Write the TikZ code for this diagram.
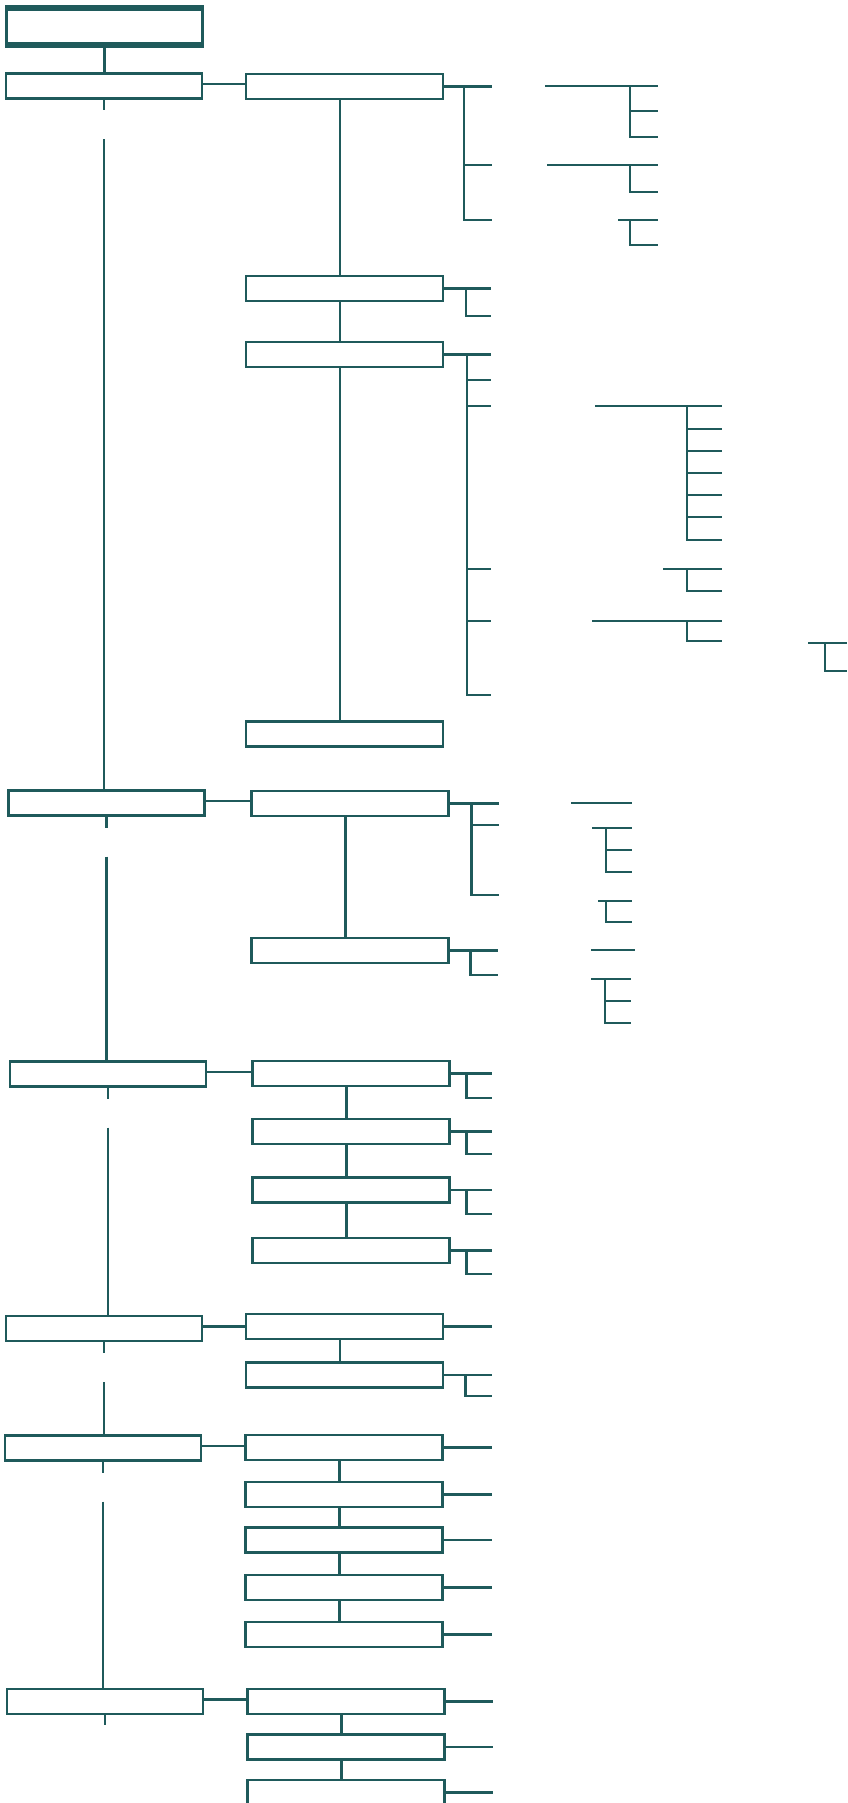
\documentclass[tikz,border=0pt]{standalone}
\usepackage{tikz}
\usetikzlibrary{positioning,calc}
\definecolor{deepteal}{HTML}{1F5A5B}

\begin{document}
\begin{tikzpicture}[
    x=1pt, y=-1pt,
    rootbox/.style={rectangle, draw=deepteal, line width=2.6pt, minimum width=196pt, minimum height=37pt, inner sep=0pt, outer sep=0pt},
    rootbar/.style={draw=deepteal, line width=6pt, shorten <=-1.3pt, shorten >=-1.3pt},
    catbox/.style={rectangle, draw=deepteal, line width=2.2pt, minimum width=196pt, minimum height=25pt, inner sep=0pt, outer sep=0pt},
    itembox/.style={rectangle, draw=deepteal, line width=2.2pt, minimum width=197pt, minimum height=25pt, inner sep=0pt, outer sep=0pt},
    link/.style={draw=deepteal, line width=2.2pt}
]
    \useasboundingbox (0,0) rectangle (847,1803);

    \node [rootbox] (root) at (104.5,26.5) {};
    \draw [rootbar] (root.north west) -- (root.north east);
    \draw [rootbar] (root.south west) -- (root.south east);

    \node [catbox] (a1) at (104,86) {};
    \node [catbox] (a2) at (106.5,803) {};
    \node [catbox] (a3) at (108,1074) {};
    \node [catbox] (a4) at (104,1328.5) {};
    \node [catbox] (a5) at (103,1448) {};
    \node [catbox] (a6) at (105,1701.5) {};

    \node [itembox] (b1) at (344.5,86.5) {};
    \node [itembox] (b2) at (344.5,288.5) {};
    \node [itembox] (b3) at (344.5,354.5) {};
    \node [itembox] (b4) at (344.5,734) {};
    \node [itembox] (c1) at (350,803.5) {};
    \node [itembox] (c2) at (350,950.5) {};
    \node [itembox] (d1) at (351,1073.5) {};
    \node [itembox] (d2) at (351,1131.5) {};
    \node [itembox] (d3) at (351,1190) {};
    \node [itembox] (d4) at (351,1250.5) {};
    \node [itembox] (e1) at (344.5,1326.5) {};
    \node [itembox] (e2) at (344.5,1375) {};
    \node [itembox] (f1) at (344,1447.5) {};
    \node [itembox] (f2) at (344,1494.5) {};
    \node [itembox] (f3) at (344,1540) {};
    \node [itembox] (f4) at (344,1587.5) {};
    \node [itembox] (f5) at (344,1634.5) {};
    \node [itembox] (g1) at (346,1701.5) {};
    \node [itembox] (g2) at (346,1747) {};
    \node [itembox] (g3) at (346,1792.5) {};

    \draw [link] (root.south) -- (root.south |- a1.north);
    \foreach \u/\v in {a1/a2,a2/a3,a3/a4,a4/a5,a5/a6} {
        \draw [link] (\u.south) -- ++(0,12);
        \draw [link] ($(\u.south)+(0,41)$) -- (\u.south |- \v.north);
    }
    \draw [link] (a6.south) -- ++(0,11);

    \foreach \u/\v in {a1/b1,a2/c1,a3/d1,a4/e1,a5/f1,a6/g1}
        \draw [link] ([yshift=2pt]\u.east) -- ([yshift=2pt]\u.east -| \v.west);

    \foreach \u/\v in {b1/b2,b2/b3,b3/b4,c1/c2,d1/d2,d2/d3,d3/d4,e1/e2,f1/f2,f2/f3,f3/f4,f4/f5,g1/g2,g2/g3}
        \draw [link] ([xshift=-4.5pt]\u.south) -- ([xshift=-4.5pt]\v.north);

    \draw [link] (b1.east) -- ++(49,0);
    \draw [link] ($(b1.east)+(21,0)$) |- ++(28,133.5);
    \draw [link] ($(b1.east)+(21,78.5)$) -- ++(28,0);
    \draw [link] (b2.east) -- ++(48,0);
    \draw [link] ($(b2.east)+(23,0)$) |- ++(25,27.5);
    \draw [link] (b3.east) -- ++(48,0);
    \draw [link] ($(b3.east)+(24,0)$) |- ++(24,340.5);
    \foreach \dy in {25.5,51.5,214.5,266.5}
        \draw [link] ($(b3.east)+(24,\dy)$) -- ++(24,0);
    \draw [link] (c1.east) -- ++(50,0);
    \draw [link] ($(c1.east)+(23,0)$) |- ++(27,91.5);
    \draw [link] ($(c1.east)+(23,21.5)$) -- ++(27,0);
    \draw [link] (c2.east) -- ++(49,0);
    \draw [link] ($(c2.east)+(22,0)$) |- ++(27,24.5);
    \foreach \n/\h in {d1/24.5,d2/22.5,d3/24,d4/23.5} {
        \draw [link] (\n.east) -- ++(42,0);
        \draw [link] ($(\n.east)+(17,0)$) |- ++(25,\h);
    }
    \draw [link] (e1.east) -- ++(48.5,0);
    \draw [link] (e2.east) -- ++(48.5,0);
    \draw [link] ($(e2.east)+(22.5,0)$) |- ++(26,21);
    \foreach \n in {f1,f2,f3,f4,f5}
        \draw [link] (\n.east) -- ++(49,0);
    \foreach \n in {g1,g2,g3}
        \draw [link] (\n.east) -- ++(48,0);

    \draw [link] (545,86) -- (658,86);
    \draw [link] (630,86) |- (658,137);
    \draw [link] (630,111) -- (658,111);
    \draw [link] (547,165) -- (658,165);
    \draw [link] (630,165) |- (658,192);
    \draw [link] (618,220) -- (658,220);
    \draw [link] (630,220) |- (658,245);

    \draw [link] (595,406) -- (722,406);
    \draw [link] (687,406) |- (722,540);
    \foreach \y in {429,451,473,495,517}
        \draw [link] (687,\y) -- (722,\y);
    \draw [link] (663,569) -- (722,569);
    \draw [link] (687,569) |- (722,591);
    \draw [link] (592,621) -- (722,621);
    \draw [link] (687,621) |- (722,641);
    \draw [link] (808,643) -- (847,643);
    \draw [link] (825,643) |- (847,671);

    \draw [link] (571,803) -- (632,803);
    \draw [link] (592,828) -- (632,828);
    \draw [link] (606,828) |- (632,872);
    \draw [link] (606,850) -- (632,850);
    \draw [link] (598,901) -- (632,901);
    \draw [link] (606,901) |- (632,922);
    \draw [link] (591,950) -- (635,950);
    \draw [link] (591,979) -- (631,979);
    \draw [link] (605,979) |- (631,1023);
    \draw [link] (605,1001) -- (631,1001);
\end{tikzpicture}
\end{document}
